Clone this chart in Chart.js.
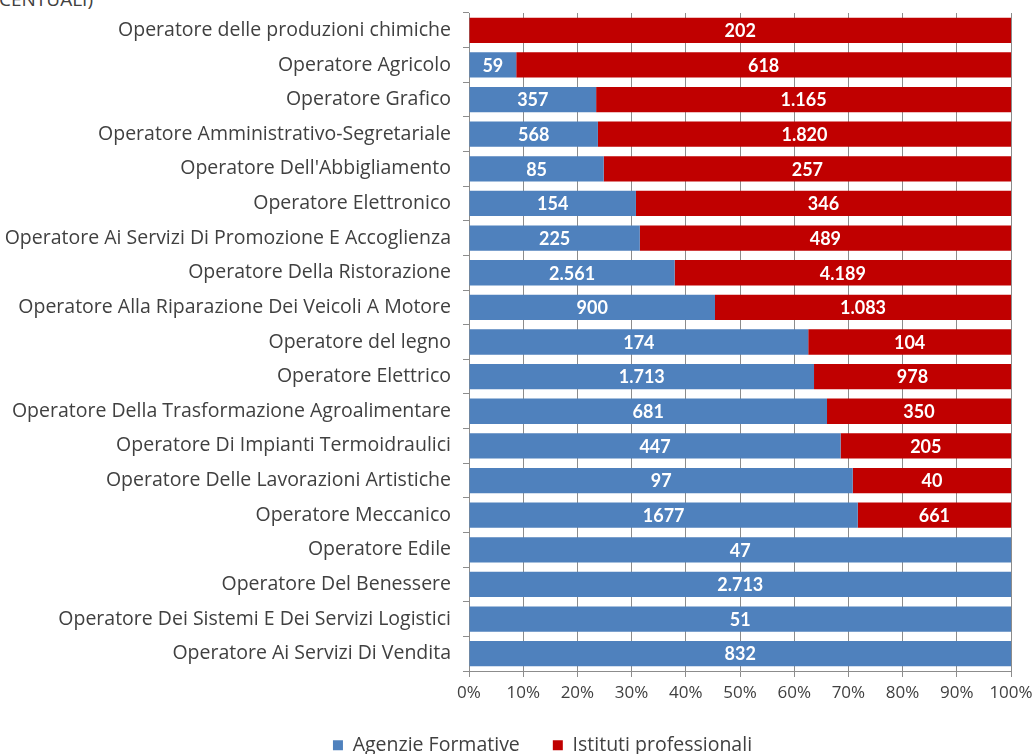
<!DOCTYPE html>
<html>
<head>
<meta charset="utf-8">
<script src="https://cdn.jsdelivr.net/npm/chart.js@4.4.1/dist/chart.umd.min.js"></script>
<style>
  html, body { margin: 0; padding: 0; background: #fff; overflow: hidden; }
  #wrap { position: relative; width: 1035px; height: 754px; overflow: hidden; }
  #cut { position: absolute; right: 942px; top: -14px; font: 19px "Open Sans", sans-serif; color: #404040; white-space: nowrap; }
  canvas { position: absolute; left: 0; top: 0; }
</style>
</head>
<body>
<div id="wrap">
  <div id="cut">(VALORI PERCENTUALI)</div>
  <canvas id="chart" width="1035" height="765"></canvas>
</div>
<script>
const categories = [
  "Operatore delle produzioni chimiche",
  "Operatore Agricolo",
  "Operatore Grafico",
  "Operatore Amministrativo-Segretariale",
  "Operatore Dell'Abbigliamento",
  "Operatore Elettronico",
  "Operatore Ai Servizi Di Promozione E Accoglienza",
  "Operatore Della Ristorazione",
  "Operatore Alla Riparazione Dei Veicoli A Motore",
  "Operatore del legno",
  "Operatore Elettrico",
  "Operatore Della Trasformazione Agroalimentare",
  "Operatore Di Impianti Termoidraulici",
  "Operatore Delle Lavorazioni Artistiche",
  "Operatore Meccanico",
  "Operatore Edile",
  "Operatore Del Benessere",
  "Operatore Dei Sistemi E Dei Servizi Logistici",
  "Operatore Ai Servizi Di Vendita"
];
const agenzie = [0, 59, 357, 568, 85, 154, 225, 2561, 900, 174, 1713, 681, 447, 97, 1677, 47, 2713, 51, 832];
const istituti = [202, 618, 1165, 1820, 257, 346, 489, 4189, 1083, 104, 978, 350, 205, 40, 661, 0, 0, 0, 0];
const xTicks = [0, 10, 20, 30, 40, 50, 60, 70, 80, 90, 100];
// the source prints this one without thousands separator
const plainLabels = ["Operatore Meccanico"];

const BLUE = "#4F81BD";
const RED = "#C00000";
const TEXT = "#404040";
const LINE = "#8c8c8c";
const FONT = "Open Sans";
const H = 765; // canvas is a bit taller than the window, legend sits on the bottom edge

const totals = agenzie.map((v, i) => v + istituti[i]);
const pct = arr => arr.map((v, i) => totals[i] ? v / totals[i] * 100 : 0);

function fmt(v, cat) {
  if (plainLabels.includes(cat)) return String(v);
  return String(v).replace(/\B(?=(\d{3})+(?!\d))/g, ".");
}

// white value labels in the middle of each segment
const valueLabels = {
  id: "valueLabels",
  afterDatasetsDraw(chart) {
    const c = chart.ctx;
    c.save();
    c.fillStyle = "#fff";
    c.font = "bold 18px Lato, sans-serif";
    c.textAlign = "center";
    c.textBaseline = "middle";
    chart.data.datasets.forEach((ds, di) => {
      const meta = chart.getDatasetMeta(di);
      meta.data.forEach((el, i) => {
        const raw = ds.raw[i];
        if (!raw) return;
        c.fillText(fmt(raw, categories[i]), (el.x + el.base) / 2, el.y + 1);
      });
    });
    c.restore();
  }
};

// source legend is not centred on the page, nudge it right
const legendShift = {
  id: "legendShift",
  afterLayout(chart) {
    chart.legend.left += 37;
    chart.legend.right += 37;
  }
};

new Chart(document.getElementById("chart"), {
  type: "bar",
  data: {
    labels: categories,
    datasets: [
      { label: "Agenzie Formative", data: pct(agenzie), raw: agenzie, backgroundColor: BLUE },
      { label: "Istituti professionali", data: pct(istituti), raw: istituti, backgroundColor: RED }
    ]
  },
  options: {
    indexAxis: "y",
    responsive: false,
    animation: false,
    devicePixelRatio: 1,
    layout: { padding: { top: 13, right: 24, left: 0, bottom: 0 } },
    datasets: { bar: { barPercentage: 0.73, categoryPercentage: 1 } },
    scales: {
      x: {
        stacked: true,
        min: 0,
        max: 100,
        afterBuildTicks: s => { s.ticks = xTicks.map(v => ({ value: v })); },
        afterFit: s => {
          s.height = H - 671 - s.chart.legend.height;
          s.paddingLeft = 0;
          s.paddingRight = 0;
        },
        ticks: { color: TEXT, font: { family: FONT, size: 17 }, padding: 6, callback: v => v + "%" },
        grid: { color: LINE, lineWidth: 1, tickLength: 6 },
        border: { color: LINE }
      },
      y: {
        stacked: true,
        afterFit: s => { s.width = 469; s.paddingTop = 0; s.paddingBottom = 0; },
        ticks: { color: TEXT, font: { family: FONT, size: 19.5 }, padding: 12 },
        grid: { drawOnChartArea: false, offset: true, color: LINE, tickLength: 6 },
        border: { color: LINE }
      }
    },
    plugins: {
      legend: {
        position: "bottom",
        labels: {
          color: TEXT,
          font: { family: FONT, size: 19.5 },
          boxWidth: 10,
          boxHeight: 10,
          padding: 33
        }
      },
      tooltip: { enabled: false }
    }
  },
  plugins: [valueLabels, legendShift]
});
</script>
</body>
</html>
